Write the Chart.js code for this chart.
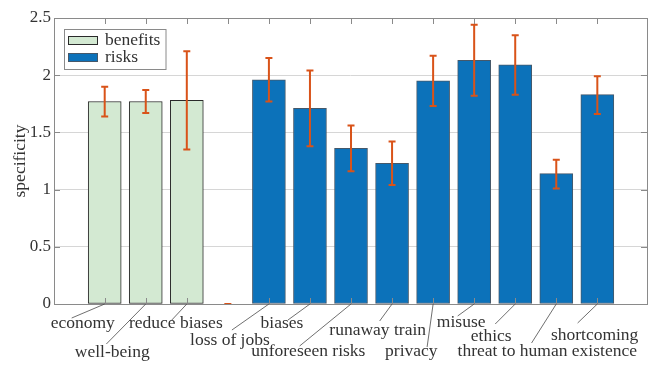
<!DOCTYPE html>
<html><head><meta charset="utf-8">
<script src="https://cdn.jsdelivr.net/npm/chart.js@4.4.1/dist/chart.umd.min.js"></script>
<style>html,body{margin:0;padding:0;background:#fff;} canvas{display:block;}</style>
</head><body>
<canvas id="c" width="649" height="366"></canvas>
<script>
// ---- data ----
const categories = ['economy','well-being','reduce biases','','loss of jobs','biases','unforeseen risks','runaway train','privacy','misuse','ethics','threat to human existence','shortcoming'];
const seriesOf = ['benefits','benefits','benefits',null,'risks','risks','risks','risks','risks','risks','risks','risks','risks'];
const specificity = [1.77,1.77,1.78,0,1.96,1.71,1.36,1.23,1.95,2.13,2.09,1.14,1.83];
const errLower = [1.64,1.67,1.35,0,1.77,1.38,1.16,1.04,1.73,1.82,1.83,1.01,1.66];
const errUpper = [1.90,1.87,2.21,0,2.15,2.04,1.56,1.42,2.17,2.44,2.35,1.26,1.99];
const yTicks = [0,0.5,1,1.5,2,2.5];
const seriesNames = ['benefits','risks'];

// ---- label layout (pixel offsets from each tick / axis bottom) ----
const labelLayout = [
  {dx:-22, base:24, lx:-33, ly:14},
  {dx:-33.5, base:53, lx:-39.4, ly:40},
  {dx:-11, base:24, lx:-15, ly:16},
  null,
  {dx:-39, base:40.5, lx:-37, ly:26},
  {dx:-28, base:24, lx:-22, ly:16},
  {dx:-42.7, base:52, lx:-51.4, ly:42},
  {dx:-14.4, base:31, lx:-12.4, ly:17},
  {dx:-21.8, base:52, lx:-6, ly:43},
  {dx:-13, base:22.5, lx:-16.5, ly:12},
  {dx:-24, base:37, lx:-20, ly:20},
  {dx:-9, base:52, lx:-24.7, ly:39},
  {dx:-2.7, base:36, lx:-19.7, ly:19}
];

const FONT = "'Liberation Serif', 'Times New Roman', serif";
const TXT = '#333333';
const FRAME = '#8a8a8a';
const colors = {
  benefits: {fill:'#d3e9d2', border:'#2a2a2a'},
  risks: {fill:'#0c72ba', border:'#45586a'}
};
const errColor = '#d95319';

const datasets = seriesNames.map(name => ({
  label: name,
  data: specificity.map((v,i) => seriesOf[i] === name ? {x:i+1, y:v} : null).filter(d => d),
  backgroundColor: colors[name].fill,
  borderColor: colors[name].border,
  borderWidth: 1,
  borderSkipped: false,
  barThickness: 33,
  grouped: false
}));

const errorBars = {
  id: 'errorBars',
  afterDatasetsDraw(chart) {
    const {ctx, scales:{x, y}} = chart;
    ctx.save();
    ctx.strokeStyle = errColor;
    ctx.lineWidth = 2;
    specificity.forEach((v,i) => {
      const px = x.getPixelForValue(i+1);
      const yl = y.getPixelForValue(errLower[i]);
      const yu = y.getPixelForValue(errUpper[i]);
      ctx.beginPath();
      ctx.moveTo(px, yl); ctx.lineTo(px, yu);
      ctx.moveTo(px-3.5, yl); ctx.lineTo(px+3.5, yl);
      ctx.moveTo(px-3.5, yu); ctx.lineTo(px+3.5, yu);
      ctx.stroke();
    });
    ctx.restore();
  }
};

const frameAndLabels = {
  id: 'frameAndLabels',
  afterDraw(chart) {
    const {ctx, chartArea:a, scales:{x, y}} = chart;
    ctx.save();
    // ticks
    ctx.strokeStyle = FRAME;
    ctx.lineWidth = 1;
    ctx.beginPath();
    categories.forEach((c,i) => {
      const px = Math.round(x.getPixelForValue(i+1)) + 0.5;
      ctx.moveTo(px, a.top); ctx.lineTo(px, a.top + 6);
      if (c) { ctx.moveTo(px, a.bottom); ctx.lineTo(px, a.bottom - 6); }
    });
    yTicks.forEach(t => {
      const py = Math.round(y.getPixelForValue(t)) + 0.5;
      ctx.moveTo(a.left, py); ctx.lineTo(a.left + 6, py);
      ctx.moveTo(a.right, py); ctx.lineTo(a.right - 6, py);
    });
    ctx.stroke();
    // frame
    ctx.strokeRect(Math.round(a.left)+0.5, Math.round(a.top)+0.5, Math.round(a.right-a.left), Math.round(a.bottom-a.top));

    // category labels with leader lines
    ctx.strokeStyle = '#4a4a4a';
    ctx.lineWidth = 0.8;
    ctx.fillStyle = TXT;
    ctx.font = "17.5px " + FONT;
    ctx.textAlign = 'center';
    ctx.textBaseline = 'alphabetic';
    categories.forEach((c,i) => {
      const L = labelLayout[i];
      if (!L || !c) return;
      const px = x.getPixelForValue(i+1);
      ctx.beginPath();
      ctx.moveTo(px, a.bottom);
      ctx.lineTo(px + L.lx, a.bottom + L.ly);
      ctx.stroke();
      ctx.fillText(c, px + L.dx, a.bottom + L.base);
    });

    // legend (inside, top-left)
    const lx = a.left + 10.5, ly = a.top + 11.5, lw = 101.5, lh = 40;
    ctx.fillStyle = '#ffffff';
    ctx.fillRect(lx, ly, lw, lh);
    ctx.strokeStyle = FRAME;
    ctx.lineWidth = 1;
    ctx.strokeRect(lx, ly, lw, lh);
    ctx.textAlign = 'left';
    chart.data.datasets.forEach((ds, k) => {
      const sy = ly + 7 + k * 17;
      ctx.fillStyle = ds.backgroundColor;
      ctx.fillRect(lx + 4, sy, 29, 8);
      ctx.strokeStyle = ds.borderColor;
      ctx.strokeRect(lx + 4, sy, 29, 8);
      ctx.fillStyle = TXT;
      ctx.fillText(ds.label, lx + 40.5, sy + 8.5);
    });
    ctx.restore();
  }
};

new Chart(document.getElementById('c'), {
  type: 'bar',
  data: { labels: categories, datasets },
  options: {
    responsive: false,
    animation: false,
    events: [],
    layout: { padding: { top: 18, right: 2, bottom: 62, left: 0 } },
    plugins: { legend: { display: false }, tooltip: { enabled: false } },
    scales: {
      x: {
        type: 'linear', min: -0.235, max: 14.21, offset: false, display: false
      },
      y: {
        min: 0, max: 2.5,
        afterBuildTicks: s => { s.ticks = yTicks.map(v => ({value: v})); },
        afterFit: s => { s.width = 54; },
        grid: { color: '#d6d6d6', drawTicks: false, lineWidth: 1 },
        border: { display: false },
        ticks: {
          padding: 3,
          color: TXT,
          font: { family: FONT, size: 17 },
          callback: v => String(v)
        },
        title: {
          display: true, text: 'specificity', color: TXT,
          font: { family: FONT, size: 17.5 },
          padding: { top: 10, bottom: 0 }
        }
      }
    }
  },
  plugins: [errorBars, frameAndLabels]
});
</script>
</body></html>
